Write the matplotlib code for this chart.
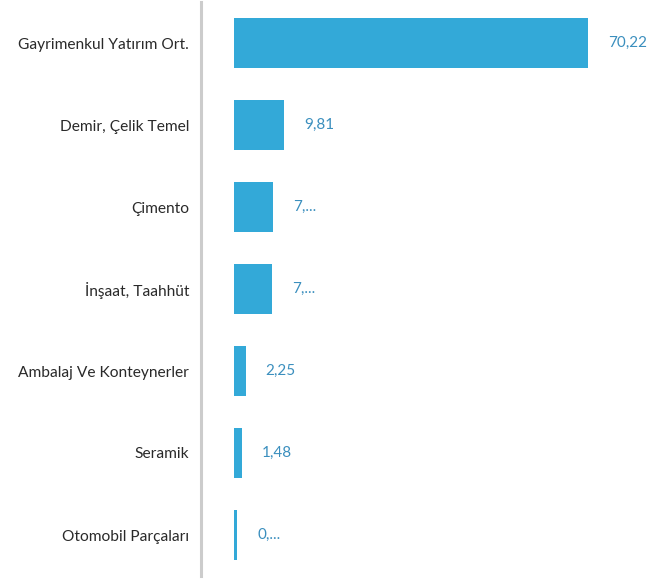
import numpy as np
import matplotlib
matplotlib.use("Agg")
from matplotlib import pyplot as plt

# sectors and their values (top to bottom)
sectors = ["Gayrimenkul Yatırım Ort.", "Demir, Çelik Temel", "Çimento",
           "İnşaat, Taahhüt", "Ambalaj Ve Konteynerler", "Seramik",
           "Otomobil Parçaları"]
values = [70.22, 9.81, 7.7, 7.5, 2.25, 1.48, 0.55]
labels = ["70,22", "9,81", "7,...", "7,...", "2,25", "1,48", "0,..."]

bar_color = "#33a9d8"
text_color = "#3b8fbe"

plt.rcParams['font.family'] = ['Lato', 'DejaVu Sans']

fig = plt.figure(figsize=(6.62, 5.81), dpi=100)
W, H = 662, 581
ax = fig.add_axes([201 / W, 5 / H, (W - 201) / W, 574 / H])

y = np.arange(len(sectors))
ax.barh(y, values, height=0.61, color=bar_color)
ax.set_ylim(len(sectors) - 0.5, -0.5)
ax.set_xlim(-6.6, 84.8)

for yi, v, lab in zip(y, values, labels):
    ax.annotate(lab, (v, yi), xytext=(14.5, 0), textcoords="offset points",
                va="center", ha="left", fontsize=11, color=text_color)

ax.set_yticks(y)
ax.set_yticklabels(sectors, fontsize=11.2, color="#2a2a2a")
ax.tick_params(axis="y", length=0, pad=8.5)
ax.set_xticks([])
for s in ["top", "right", "bottom"]:
    ax.spines[s].set_visible(False)
ax.spines["left"].set_color("#cccccc")
ax.spines["left"].set_linewidth(2.2)

fig.savefig("out.png", dpi=100)
